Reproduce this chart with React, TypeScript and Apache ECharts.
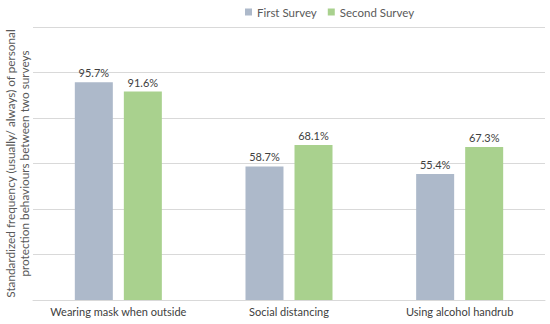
import React, { useEffect, useRef } from "react";
import * as echarts from "echarts";

const categories = ["Wearing mask when outside", "Social distancing", "Using alcohol handrub"];
const firstSurvey = [95.7, 58.7, 55.4];
const secondSurvey = [91.6, 68.1, 67.3];
const seriesNames = ["First Survey", "Second Survey"];
const yAxisTitle = "Standardized frequency (usually/ always) of personal\nprotection behaviours between two surveys";

export default function App() {
  const ref = useRef<HTMLDivElement>(null);
  useEffect(() => {
    if (!ref.current) return;
    const chart = echarts.init(ref.current, undefined, { renderer: "svg" });
    const font = "Lato";
    chart.setOption({
      animation: false,
      textStyle: { fontFamily: font },
      legend: {
        top: 1,
        left: 240,
        icon: "rect",
        itemWidth: 7,
        itemHeight: 7,
        itemGap: 11,
        textStyle: { color: "#595959", fontSize: 11.5, fontFamily: font },
        data: seriesNames,
      },
      grid: { left: 33, right: 5, top: 27, bottom: 24, outerBoundsMode: "none", containLabel: false },
      xAxis: {
        type: "category",
        data: categories,
        axisTick: { show: false },
        axisLine: { lineStyle: { color: "#D9D9D9" } },
        axisLabel: { color: "#404040", fontSize: 11, fontFamily: font, margin: 6, interval: 0 },
      },
      yAxis: {
        type: "value",
        min: 0,
        max: 120,
        interval: 20,
        axisLabel: { show: false },
        axisTick: { show: false },
        axisLine: { show: false },
        splitLine: { lineStyle: { color: "#D9D9D9" } },
        name: yAxisTitle,
        nameLocation: "middle",
        nameRotate: 90,
        nameGap: 2,
        nameTextStyle: { color: "#595959", fontSize: 11.75, fontFamily: font, lineHeight: 14 },
      },
      series: [
        {
          name: seriesNames[0],
          type: "bar",
          data: firstSurvey,
          barWidth: 38,
          barGap: "29%",
          itemStyle: { color: "#ADB9CA" },
          label: { show: true, position: "top", formatter: "{c}%", color: "#404040", fontSize: 11, fontFamily: font, distance: 4 },
        },
        {
          name: seriesNames[1],
          type: "bar",
          data: secondSurvey,
          barWidth: 38,
          itemStyle: { color: "#A9D18E" },
          label: { show: true, position: "top", formatter: "{c}%", color: "#404040", fontSize: 11, fontFamily: font, distance: 4 },
        },
      ],
    });
    return () => chart.dispose();
  }, []);
  return <div ref={ref} style={{ width: 550, height: 324, position: "absolute", left: 0, top: 0 }} />;
}
